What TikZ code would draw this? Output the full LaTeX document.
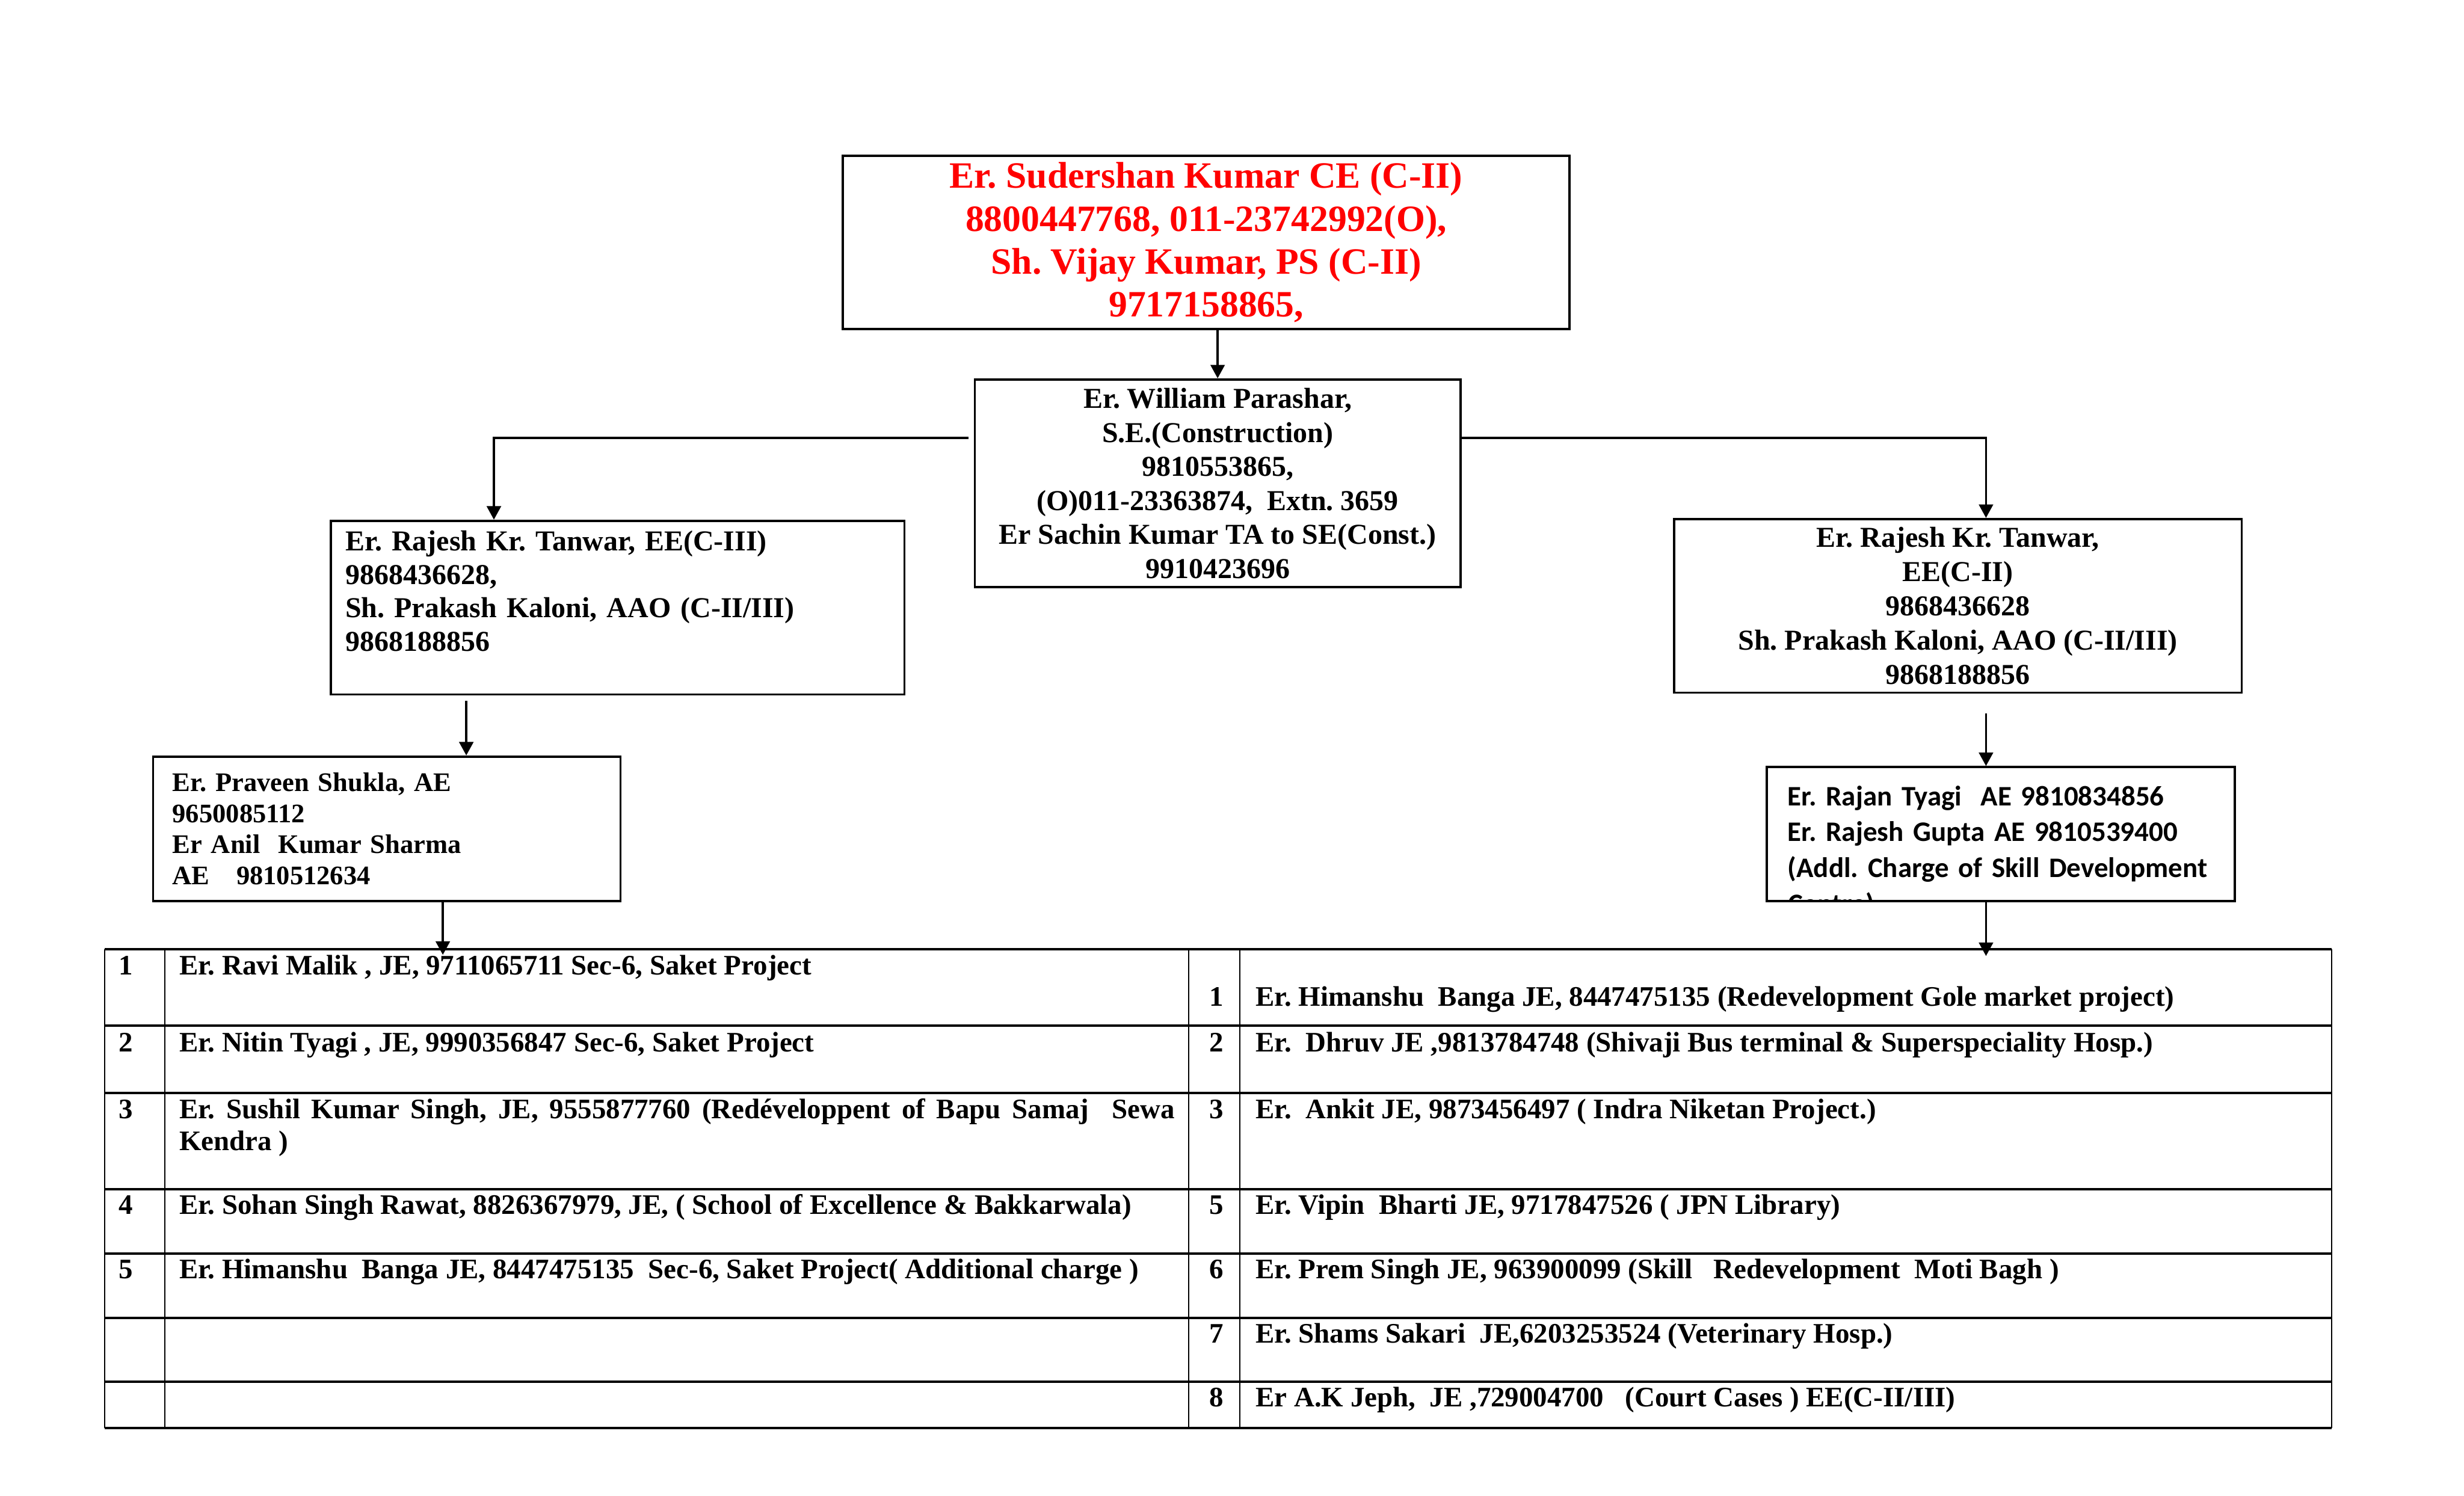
\documentclass[tikz,border=0pt]{standalone}
\usepackage{fontspec}
\setmainfont{Liberation Serif}
\newfontfamily\calibri{Carlito}
\usepackage{tikz}
\usetikzlibrary{arrows.meta, positioning, calc}
\frenchspacing

\begin{document}
\begin{tikzpicture}[
  post/.style={draw, rectangle, line width=1.1pt, inner sep=0pt, align=center,
               font=\fontsize{14}{16.5}\selectfont\bfseries},
  conn/.style={line width=1.1pt, -{Triangle[length=0.23cm, width=0.24cm]}},
  cell/.style={anchor=base west, inner sep=0pt, font=\fontsize{13.7}{15.6}\selectfont\bfseries},
  num/.style={anchor=base, inner sep=0pt, font=\fontsize{13.7}{15.6}\selectfont\bfseries},
  hrule/.style={line width=1.2pt},
  vrule/.style={line width=0.6pt}
]
  \useasboundingbox (0,0) rectangle (42.01,-25.50);

  \node[post, minimum width=12.39cm, minimum height=2.95cm, text=red,
        font=\fontsize{18}{20.8}\selectfont\bfseries] (ce) at (20.565,-4.135)
    {Er. Sudershan Kumar CE (C-II)\\ 8800447768, 011-23742992(O),\\ Sh. Vijay Kumar, PS (C-II)\\ 9717158865,};
  \node[post, minimum width=8.28cm, minimum height=3.54cm] (se) at (20.76,-8.24)
    {Er. William Parashar,\\ S.E.(Construction)\\ 9810553865,\\ (O)011-23363874,~ Extn. 3659\\ Er Sachin Kumar TA to SE(Const.)\\ 9910423696};
  \node[post, align=left, inner xsep=0.25cm, text width=9.28cm, minimum height=2.96cm,
        font=\fontsize{14}{16.2}\selectfont\bfseries] (eel) at (10.53,-10.36)
    {Er. Rajesh Kr. Tanwar, EE(C-III)\\ 9868436628,\\ Sh. Prakash Kaloni, AAO (C-II/III)\\ 9868188856\\ \mbox{}};
  \node[post, minimum width=9.68cm, minimum height=2.96cm,
        font=\fontsize{14}{16.6}\selectfont\bfseries] (eer) at (33.38,-10.33)
    {Er. Rajesh Kr. Tanwar,\\ EE(C-II)\\ 9868436628\\ Sh. Prakash Kaloni, AAO (C-II/III)\\ 9868188856};
  \node[post, align=left, inner xsep=0.33cm, text width=7.31cm, minimum height=2.46cm,
        font=\fontsize{13}{15.1}\selectfont\bfseries] (ael) at (6.595,-14.13)
    {Er. Praveen Shukla, AE\\ 9650085112\\ Er Anil~ Kumar Sharma\\ AE~~ 9810512634};
  \node[post, align=left, inner xsep=0.36cm, text width=7.26cm, minimum height=2.28cm,
        font=\calibri\fontsize{13.7}{17.3}\selectfont\bfseries] (aer) at (34.11,-14.22)
    {Er. Rajan Tyagi~ AE 9810834856\\ Er. Rajesh Gupta AE 9810539400\\ (Addl. Charge of Skill Development};
  \begin{scope}
    \clip (aer.north west) rectangle (aer.south east);
    \node[anchor=base west, inner sep=0pt, font=\calibri\fontsize{13.7}{17.3}\selectfont\bfseries]
      (aercut) at (30.48,-15.57) {Centre)};
  \end{scope}

  \coordinate (eel-in) at ([xshift=2.80cm]eel.north west);
  \coordinate (eer-in) at ([xshift=0.48cm]eer.north);
  \coordinate (ael-in) at ([xshift=1.355cm]ael.north);
  \coordinate (aer-in) at ([xshift=-0.25cm]aer.north);
  \coordinate (tl-in) at (7.55,-16.28);
  \coordinate (tr-in) at (33.86,-16.30);

  \draw[conn] (ce.south -| se.north) -- (se.north);
  \draw[conn] ([xshift=-0.09cm, yshift=0.77cm]se.west) -| (eel-in);
  \draw[conn] ([yshift=0.77cm]se.east) -| (eer-in);
  \draw[conn, shorten <=0.09cm] (eel.south -| ael-in) -- (ael-in);
  \draw[conn, shorten <=0.33cm] (eer.south -| aer-in) -- (aer-in);
  \draw[conn] (ael.south -| tl-in) -- (tl-in);
  \draw[conn] (aer.south -| tr-in) -- (tr-in);

  \foreach \y in {16.18,17.49,18.64,20.28,21.37,22.47,23.56,24.35}
    \draw[hrule] (1.78,-\y) -- (39.75,-\y);
  \foreach \x in {1.78,2.81,20.27,21.14,39.75}
    \draw[vrule] (\x,-16.18) -- (\x,-24.35);

  \foreach \n/\y in {1/16.62,2/17.93,3/19.07,4/20.70,5/21.80}
    \node[num] (ln\n) at (2.15,-\y) {\n};
  \foreach \n/\y in {1/17.15,2/17.93,3/19.07,5/20.70,6/21.80,7/22.90,8/23.98}
    \node[num] (rn\n) at (20.74,-\y) {\n};

  \node[cell] (lt1) at (3.05,-16.62) {Er. Ravi Malik , JE, 9711065711 Sec-6, Saket Project};
  \node[cell] (lt2) at (3.05,-17.93) {Er. Nitin Tyagi , JE, 9990356847 Sec-6, Saket Project};
  \node[cell, align=left] (lt3) at (3.05,-19.62)
    {\makebox[16.97cm][s]{Er. Sushil Kumar Singh, JE, 9555877760 (Redéveloppent of Bapu Samaj~ Sewa}\\ Kendra )};
  \node[cell] (lt4) at (3.05,-20.70) {Er. Sohan Singh Rawat, 8826367979, JE, ( School of Excellence \& Bakkarwala)};
  \node[cell] (lt5) at (3.05,-21.80) {Er. Himanshu~ Banga JE, 8447475135~ Sec-6, Saket Project( Additional charge )};

  \node[cell] (rt1) at (21.40,-17.15) {Er. Himanshu~ Banga JE, 8447475135 (Redevelopment Gole market project)};
  \node[cell] (rt2) at (21.40,-17.93) {Er.~ Dhruv JE ,9813784748 (Shivaji Bus terminal \& Superspeciality Hosp.)};
  \node[cell] (rt3) at (21.40,-19.07) {Er.~ Ankit JE, 9873456497 ( Indra Niketan Project.)};
  \node[cell] (rt5) at (21.40,-20.70) {Er. Vipin~ Bharti JE, 9717847526 ( JPN Library)};
  \node[cell] (rt6) at (21.40,-21.80) {Er. Prem Singh JE, 963900099 (Skill~~ Redevelopment~ Moti Bagh )};
  \node[cell] (rt7) at (21.40,-22.90) {Er. Shams Sakari~ JE,6203253524 (Veterinary Hosp.)};
  \node[cell] (rt8) at (21.40,-23.98) {Er A.K Jeph,~ JE ,729004700~~ (Court Cases ) EE(C-II/III)};
\end{tikzpicture}
\end{document}
